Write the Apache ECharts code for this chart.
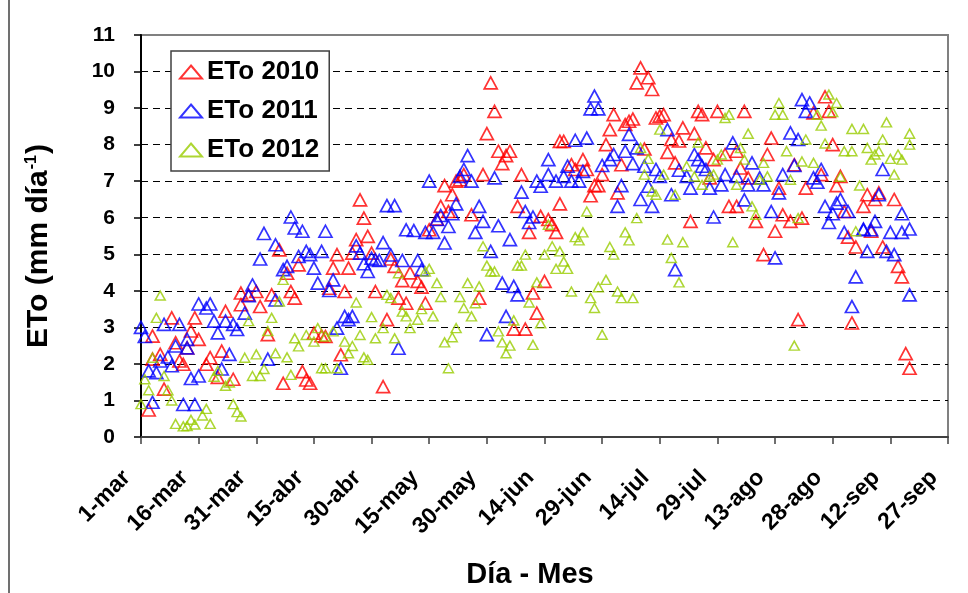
<!DOCTYPE html>
<html>
<head>
<meta charset="utf-8">
<script src="https://cdn.jsdelivr.net/npm/echarts@6/dist/echarts.min.js"></script>
<style>
  html, body { margin: 0; padding: 0; background: #fff; }
  #chart { width: 968px; height: 593px; }
</style>
</head>
<body>
<div id="chart"></div>
<script>
// x = days counted from 1-mar, y = ETo (mm/day)
const xTickLabels = ['1-mar', '16-mar', '31-mar', '15-abr', '30-abr', '15-may', '30-may',
  '14-jun', '29-jun', '14-jul', '29-jul', '13-ago', '28-ago', '12-sep', '27-sep'];

const eto2010 = [
  [2,0.74],[3,2.76],[3,2.13],[5,2.26],[6,1.31],[8,3.26],[9,2.58],[10,2.08],[11,1.99],[12,2.44],
  [13,2.9],[14,3.26],[15,2.67],[17,1.99],[18,2.17],[20,1.63],[21,2.35],[22,3.44],[24,1.58],[26,3.94],
  [26,3.62],[28,3.89],[30,3.98],[31,3.57],[33,2.8],[34,3.89],
  [36,5.12],[37,1.47],[38,4.48],[39,3.98],[40,3.8],[41,4.71],[42,1.79],[43,1.56],[44,1.47],[45,2.84],
  [47,2.77],[48,2.75],[49,4.07],[50,4.62],[51,4.99],[52,2.25],[53,3.98],[54,4.62],[55,5.03],[56,5.4],
  [57,6.49],[58,5.99],[59,5.49],[60,5.03],[61,3.98],[63,1.38],[64,3.21],[65,4.87],[66,4.67],[67,3.8],
  [68,4.28],[69,3.66],
  [70,4.49],[72,4.26],[73,4.1],[74,3.66],[75,5.67],[77,5.96],[78,6.31],[79,6.88],[80,6.17],[81,6.63],
  [82,7.0],[83,7.04],[84,7.18],[86,6.08],[88,3.8],[89,7.18],[90,8.3],[91,9.69],[92,8.91],[93,7.82],
  [94,7.48],[95,7.7],[96,7.82],[97,2.95],[98,6.31],[99,7.18],[100,2.95],[101,5.6],[102,3.94],[103,3.39],
  [104,6.04],[105,4.26],
  [106,5.95],[107,5.81],[108,5.6],[109,6.38],[109,8.09],[110,8.09],[112,7.45],[113,7.32],[115,7.59],[116,7.32],
  [117,6.6],[118,6.88],[119,6.88],[120,7.18],[121,8.0],[122,8.41],[123,8.82],[124,6.68],[125,7.45],[126,8.55],
  [127,8.64],[128,8.7],[129,9.69],[130,10.1],[131,7.88],[132,9.83],[133,9.51],[134,8.73],[135,8.78],[136,8.82],
  [137,7.79],[138,8.14],[139,7.5],[140,8.1],
  [141,8.46],[143,5.9],[144,8.3],[145,8.91],[146,8.82],[147,7.91],[148,7.09],[149,7.59],[150,8.91],[152,7.73],
  [153,6.31],[155,6.31],[155,7.82],[156,7.36],[157,8.91],[158,7.09],[160,5.9],[162,4.99],[163,7.73],[164,8.18],
  [165,5.63],[166,6.81],[167,6.08],[169,5.9],[170,7.45],[171,3.21],[172,5.99],[173,6.81],
  [175,8.87],[177,7.18],[178,9.31],[179,8.91],[180,8.0],[181,6.88],[182,7.13],[183,6.17],[184,5.47],[185,3.12],
  [186,5.2],[188,6.31],[189,6.63],[190,5.63],[191,6.5],[192,6.68],[193,5.2],[196,6.5],[197,4.67],[198,4.38],
  [199,2.28],[200,1.88]
];

const eto2011 = [
  [0,3.0],[1,2.75],[2,1.81],[3,0.95],[4,1.76],[5,2.08],[6,3.08],[7,2.19],[8,1.95],[9,2.49],
  [10,3.08],[11,0.89],[12,2.67],[12,2.44],[13,1.6],[14,0.89],[15,1.67],[15,3.64],[17,3.53],[18,3.64],
  [19,3.17],[20,2.85],[21,1.86],[22,3.17],[23,2.26],[24,3.08],[25,2.94],[27,3.39],[28,3.87],[29,4.16],
  [31,4.87],[32,5.57],[33,2.13],
  [35,5.26],[35,3.75],[37,4.58],[38,4.67],[39,6.02],[40,5.72],[41,4.94],[42,5.63],[43,5.08],[44,4.99],
  [45,4.62],[46,4.21],[47,5.08],[48,5.63],[49,4.01],[50,4.3],[51,2.98],[52,1.88],[53,3.3],[54,3.21],
  [55,3.3],[56,5.23],[57,5.03],[58,4.74],[59,4.53],[60,4.89],[61,4.85],[62,4.83],[63,5.32],[64,6.33],
  [65,4.98],[66,6.33],[67,2.43],[68,4.83],[69,5.67],
  [71,5.65],[72,4.83],[73,4.58],[74,5.6],[75,7.0],[76,5.6],[77,5.95],[78,6.06],[79,5.31],[80,5.76],
  [81,6.11],[82,6.38],[83,7.13],[84,7.32],[85,7.7],[86,7.0],[87,5.6],[88,6.31],[89,5.9],[90,2.8],
  [91,5.08],[92,7.09],[93,5.78],[94,4.21],[95,3.3],[96,5.4],[97,4.12],[98,3.89],[99,6.7],[100,6.17],
  [101,5.87],[102,6.02],[103,7.0],[104,6.86],
  [106,7.18],[106,7.59],[108,7.0],[110,7.13],[111,7.41],[112,7.0],[113,8.12],[114,7.0],[115,7.27],[116,8.18],
  [117,8.98],[118,9.33],[119,8.98],[120,7.43],[122,7.59],[123,7.73],[124,6.31],[125,6.88],[126,7.82],[127,8.28],
  [128,7.48],[129,7.91],[130,6.5],[131,7.41],[132,6.86],[133,6.31],[134,7.32],[135,7.13],[137,8.41],[138,6.63],
  [139,4.58],[140,7.3],
  [142,7.13],[143,6.81],[144,7.73],[145,7.59],[146,7.41],[147,7.32],[148,6.81],[149,6.02],[151,6.9],[152,7.18],
  [154,8.05],[155,7.13],[157,6.49],[158,6.9],[159,7.5],[161,7.09],[162,6.9],[164,6.17],[165,4.9],[166,6.68],
  [167,7.18],[169,8.32],[170,7.43],[171,8.14],[172,9.23],[173,8.91],[174,9.14],[175,7.09],
  [176,6.97],[177,7.32],[178,6.31],[179,5.87],[180,6.11],[181,6.4],[182,6.5],[183,5.6],[184,6.17],[185,3.57],
  [186,4.38],[188,5.69],[188,5.67],[189,5.08],[190,5.67],[191,5.9],[192,6.63],[193,7.32],[194,5.08],[195,5.6],
  [196,4.99],[198,5.6],[198,6.11],[200,5.69],[200,3.89]
];

const eto2012 = [
  [0,0.9],[1,1.58],[2,1.28],[3,2.17],[4,3.26],[5,3.87],[6,1.67],[7,1.28],[8,1.0],[9,0.36],
  [11,0.29],[12,0.3],[13,0.47],[14,0.34],[16,0.59],[17,0.77],[18,0.36],[19,1.65],[20,1.81],[22,1.4],
  [23,1.49],[24,0.9],[25,0.68],[26,0.56],[27,2.17],[28,3.17],[29,1.67],[30,2.26],[31,1.67],[32,1.86],
  [33,2.9],[34,3.26],
  [35,2.29],[36,3.71],[37,4.3],[38,2.18],[39,1.7],[40,2.7],[41,2.48],[43,2.79],[45,2.61],[46,2.98],
  [47,1.88],[48,2.75],[48,1.88],[50,2.89],[51,1.88],[53,2.61],[54,2.29],[55,2.49],[56,3.68],[57,2.79],
  [58,2.18],[59,2.11],[60,3.28],[61,2.7],[63,2.98],[64,3.89],[65,3.8],[66,2.7],[67,4.48],[68,3.43],
  [69,3.3],
  [70,2.98],[72,3.21],[73,3.5],[74,4.53],[75,4.6],[76,3.3],[77,4.21],[78,3.83],[79,2.59],[80,1.88],
  [81,2.73],[82,2.98],[83,3.83],[84,3.53],[85,4.21],[86,3.3],[87,3.66],[88,4.12],[89,5.22],[90,4.69],
  [91,4.53],[92,4.53],[93,2.89],[94,2.59],[95,2.29],[96,2.5],[97,3.19],[98,4.69],[99,4.69],[100,4.99],
  [101,3.68],[102,2.52],[103,4.23],[104,3.11],[105,4.99],
  [106,5.81],[107,5.22],[108,4.6],[109,5.08],[110,4.8],[111,4.6],[112,3.98],[113,5.47],[114,5.38],[115,5.6],
  [116,6.17],[117,3.8],[118,3.53],[119,4.1],[120,2.8],[121,4.3],[122,5.2],[123,4.99],[124,3.98],[125,3.8],
  [126,5.6],[127,5.38],[128,3.8],[129,5.99],[130,7.91],[131,7.18],[132,7.61],[133,6.72],[134,6.63],[135,8.41],
  [136,7.18],[137,5.4],[138,4.9],[139,6.63],[140,4.23],
  [141,5.33],[142,7.41],[144,7.13],[145,8.06],[146,6.9],[148,7.13],[149,7.18],[150,7.59],[151,7.73],[152,8.73],
  [153,8.82],[154,5.33],[155,6.9],[156,7.91],[157,7.59],[158,8.3],[159,6.31],[160,6.08],[161,7.04],[162,7.5],
  [163,7.13],[165,8.82],[166,9.14],[167,8.82],[168,7.82],[169,7.04],[170,2.5],[171,5.99],[172,7.54],[173,8.14],
  [175,7.5],
  [176,8.82],[177,8.52],[178,8.03],[179,9.37],[180,8.89],[181,9.14],[182,7.12],[183,7.82],[185,7.82],[185,8.43],
  [186,5.63],[187,6.88],[188,8.43],[189,7.91],[190,7.59],[191,7.73],[192,7.82],[193,8.14],[194,8.61],[195,7.61],
  [196,7.18],[197,7.73],[198,7.59],[200,8.0],[200,8.3]
];

const FONT = '"Liberation Sans", Arial, sans-serif';

// hollow triangles like the excel markers
function triSeries(name, data, color, size, bw) {
  return {
    name: name,
    type: 'scatter',
    data: data,
    symbol: 'triangle',
    symbolSize: size,
    itemStyle: { color: 'rgba(0,0,0,0)', borderColor: color, borderWidth: bw },
    emphasis: { disabled: true }
  };
}

const chart = echarts.init(document.getElementById('chart'));

chart.setOption({
  animation: false,
  backgroundColor: '#fff',
  grid: {
    left: 141, right: 20, top: 35, bottom: 156,
    show: true, borderColor: '#808080', borderWidth: 2,
    containLabel: false, outerBoundsMode: 'none'
  },
  legend: {
    orient: 'vertical',
    left: 171, top: 51,
    padding: [8, 10, 8, 8],
    itemGap: 13,
    itemWidth: 22, itemHeight: 13,
    backgroundColor: '#fff',
    borderColor: '#404040', borderWidth: 1.5,
    selectedMode: false,
    textStyle: { fontFamily: FONT, fontWeight: 'bold', fontSize: 26, color: '#000' },
    data: ['ETo 2010', 'ETo 2011', 'ETo 2012']
  },
  xAxis: {
    type: 'value',
    min: 0, max: 210, interval: 15,
    axisLine: { show: true, onZero: false, lineStyle: { color: '#404040', width: 2 } },
    axisTick: { show: true, length: 7, lineStyle: { color: '#404040', width: 1.5 } },
    splitLine: { show: false },
    axisLabel: {
      rotate: 45, margin: 23, padding: [0, 20, 0, 0],
      fontFamily: FONT, fontWeight: 'bold', fontSize: 23, color: '#000',
      formatter: v => xTickLabels[Math.round(v / 15)]
    }
  },
  yAxis: {
    type: 'value',
    min: 0, max: 11, interval: 1,
    axisLine: { show: true, lineStyle: { color: '#000', width: 2 } },
    axisTick: { show: true, length: 7, lineStyle: { color: '#000', width: 1.5 } },
    splitLine: {
      show: true, showMinLine: false, showMaxLine: false,
      lineStyle: { color: '#000', width: 1, type: [7, 5] }
    },
    axisLabel: { margin: 26, fontFamily: FONT, fontWeight: 'bold', fontSize: 21, color: '#000' }
  },
  series: [
    triSeries('ETo 2010', eto2010, '#ff0000', [13, 12], 1.7),
    triSeries('ETo 2011', eto2011, '#0000ff', [13, 12], 1.7),
    triSeries('ETo 2012', eto2012, '#99cc00', [10, 9], 1.5)
  ],
  graphic: [
    {
      type: 'line', silent: true,
      shape: { x1: 9, y1: 0, x2: 9, y2: 593 },
      style: { stroke: '#404040', lineWidth: 1.5 }
    },
    {
      type: 'text', silent: true,
      x: 39, y: 246, rotation: Math.PI / 2,
      style: {
        text: 'ETo (mm día{sup|-1})',
        fontFamily: FONT, fontWeight: 'bold', fontSize: 30, fill: '#000',
        align: 'center', verticalAlign: 'middle',
        rich: {
          sup: { fontFamily: FONT, fontWeight: 'bold', fontSize: 16, verticalAlign: 'top', padding: [0, 1, 0, 1] }
        }
      }
    },
    {
      type: 'text', silent: true,
      x: 530, y: 575,
      style: {
        text: 'Día - Mes',
        fontFamily: FONT, fontWeight: 'bold', fontSize: 29, fill: '#000',
        align: 'center', verticalAlign: 'middle'
      }
    }
  ]
});
</script>
</body>
</html>
